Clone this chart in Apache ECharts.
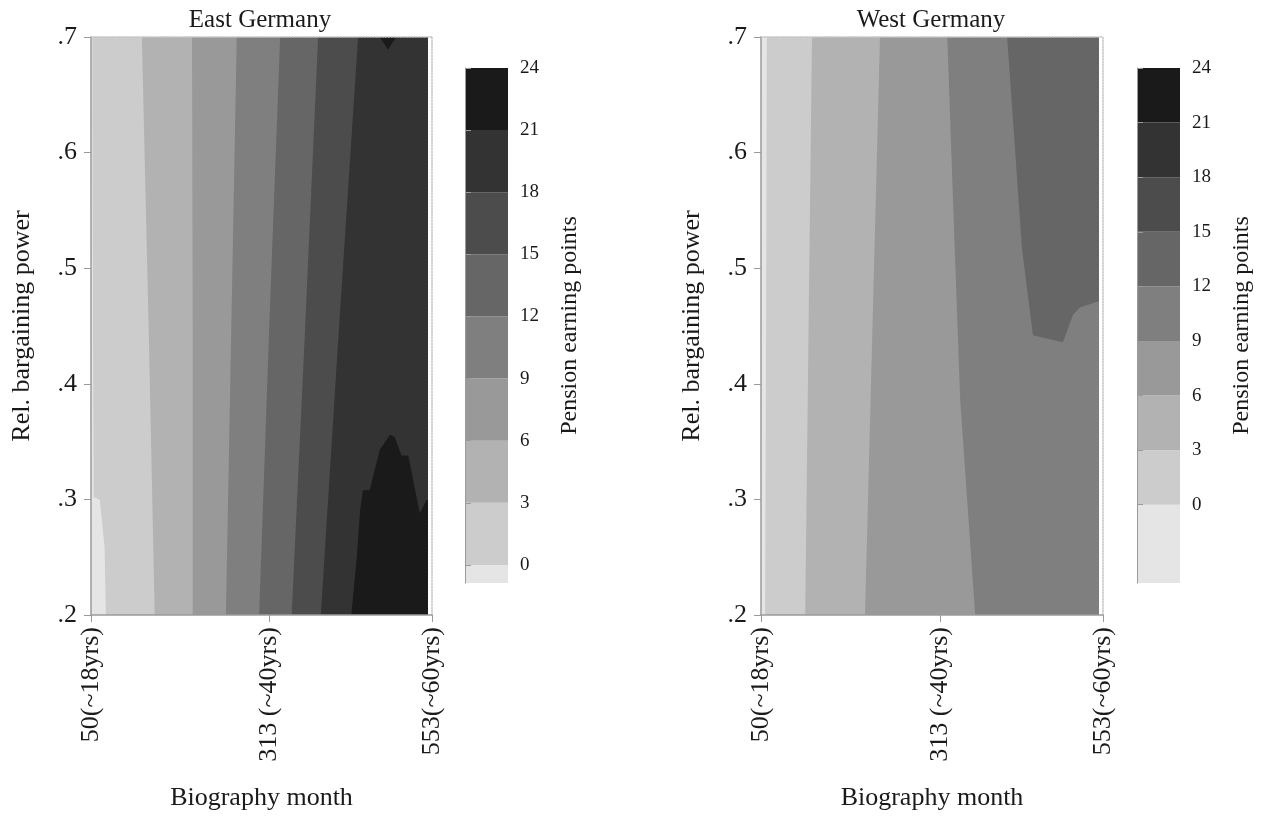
<!DOCTYPE html>
<html><head><meta charset="utf-8">
<script src="https://cdn.jsdelivr.net/npm/echarts@6/dist/echarts.min.js"></script>
<style>html,body{margin:0;padding:0;background:#fff}#c{width:1274px;height:821px}</style>
</head><body><div id="c"></div>
<script>
// ---------- data ----------
const panelTitles = ['East Germany', 'West Germany'];
const xTickValues = [50, 313, 553];
const xTickLabels = ['50(~18yrs)', '313 (~40yrs)', '553(~60yrs)'];
const levels = [0, 3, 6, 9, 12, 15, 18, 21, 24];
const bandColors = ['#e5e5e5', '#cccccc', '#b2b2b2', '#999999', '#7f7f7f', '#666666', '#4c4c4c', '#333333', '#1a1a1a'];
const eastZMin = -0.87;
const westZMin = -4.3;
const X_START = 50, X_END = 547, Y_MIN = 0.2, Y_MAX = 0.7;

// contour lines [biography month, rel. bargaining power]; region to the right is >= level
const eastC0 = [[52, 0.7], [53, 0.45], [54, 0.302], [63, 0.2995], [70, 0.259], [72, 0.2]];
const eastC3 = [[125, 0.7], [135, 0.45], [144, 0.2]];
const eastC6 = [[199, 0.7], [200, 0.45], [200, 0.2]];
const eastC9 = [[265, 0.7], [257, 0.45], [249, 0.2]];
const eastC12 = [[329, 0.7], [313, 0.45], [298, 0.2]];
const eastC15 = [[385, 0.7], [366, 0.45], [346, 0.2]];
const eastC18 = [[444, 0.7], [416, 0.45], [389, 0.2]];
const eastC21a = [[476, 0.7], [488, 0.689], [500, 0.7]];
const eastC21b = [[434, 0.2], [442, 0.25], [447, 0.291], [451, 0.308], [461, 0.308], [476, 0.343], [491, 0.356], [498, 0.354], [508, 0.338], [518, 0.338], [535, 0.288], [545, 0.2995]];

const westC0 = [[58.5, 0.7], [57.5, 0.45], [56, 0.2]];
const westC3 = [[125, 0.7], [120, 0.45], [115, 0.2]];
const westC6 = [[225, 0.7], [214, 0.45], [203, 0.2]];
const westC9 = [[324, 0.7], [335, 0.516], [343, 0.386], [365, 0.2]];
const westC12 = [[412, 0.7], [434, 0.516], [450, 0.442], [494, 0.436], [509, 0.46], [519, 0.466], [544, 0.471]];

// ---------- build ----------
const basePoly = [[X_START, Y_MAX], [X_START, Y_MIN], [X_END, Y_MIN], [X_END, Y_MAX]];
function closeRight(p) {
  return p.concat([[X_END, p[p.length - 1][1]], [X_END, p[0][1]]]);
}
const eastRegions = [
  { poly: basePoly, c: 0 },
  { poly: closeRight(eastC0), c: 1 },
  { poly: closeRight(eastC3), c: 2 },
  { poly: closeRight(eastC6), c: 3 },
  { poly: closeRight(eastC9), c: 4 },
  { poly: closeRight(eastC12), c: 5 },
  { poly: closeRight(eastC15), c: 6 },
  { poly: closeRight(eastC18), c: 7 },
  { poly: closeRight(eastC21a), c: 8 },
  { poly: closeRight(eastC21b), c: 8 }
];
const westRegions = [
  { poly: basePoly, c: 0 },
  { poly: closeRight(westC0), c: 1 },
  { poly: closeRight(westC3), c: 2 },
  { poly: closeRight(westC6), c: 3 },
  { poly: closeRight(westC9), c: 4 },
  { poly: closeRight(westC12), c: 5 }
];
function bands(zmin) {
  const out = [];
  for (let k = 0; k < bandColors.length; k++) {
    const lo = k === 0 ? zmin : levels[k - 1];
    const hi = levels[k];
    out.push([0, lo, hi, k]);
  }
  return out;
}

const FONT = '"Liberation Serif", "Times New Roman", serif';
const TXT = '#1a1a1a';
const AX = '#9a9a9a';

const grids = [
  { left: 91, top: 37, width: 341, height: 578 },
  { left: 465, top: 68, width: 43, height: 515 },
  { left: 761, top: 37, width: 342, height: 578 },
  { left: 1137, top: 68, width: 43, height: 515 }
];

function plotAxes(g) {
  const xa = [{
    type: 'value', gridIndex: g, min: 50, max: 553, z: 10,
    axisLine: { lineStyle: { color: AX, width: 1.5 } },
    axisTick: { customValues: xTickValues, length: 7, lineStyle: { color: AX } },
    axisLabel: { customValues: xTickValues, rotate: 90, margin: 12, fontSize: 26, fontFamily: FONT, color: TXT,
      formatter: v => xTickLabels[xTickValues.indexOf(v)] },
    splitLine: { show: false },
    name: 'Biography month', nameLocation: 'middle', nameGap: 170,
    nameTextStyle: { fontSize: 26, fontFamily: FONT, color: TXT }
  }, {
    type: 'value', gridIndex: g, min: 50, max: 553, position: 'top', z: 10,
    axisLine: { lineStyle: { color: '#c4c4c4', type: 'dotted', width: 1.5 } },
    axisTick: { show: false }, axisLabel: { show: false }, splitLine: { show: false }
  }];
  const ya = [{
    type: 'value', gridIndex: g, min: 0.2, max: 0.7, interval: 0.1, z: 10,
    axisLine: { show: true, lineStyle: { color: AX, width: 1.5 } },
    axisTick: { show: true, length: 7, lineStyle: { color: AX } },
    axisLabel: { margin: 14, fontSize: 26, fontFamily: FONT, color: TXT,
      formatter: v => v.toFixed(1).replace(/^0/, '') },
    splitLine: { show: false },
    name: 'Rel. bargaining power', nameLocation: 'middle', nameGap: 56, nameRotate: 90,
    nameTextStyle: { fontSize: 26, fontFamily: FONT, color: TXT }
  }, {
    type: 'value', gridIndex: g, min: 0.2, max: 0.7, position: 'right', z: 10,
    axisLine: { show: true, lineStyle: { color: '#c4c4c4', type: 'dotted', width: 1.5 } },
    axisTick: { show: false }, axisLabel: { show: false }, splitLine: { show: false }
  }];
  return { xa, ya };
}
function barAxes(g, zmin) {
  return {
    xa: [{ type: 'value', gridIndex: g, min: 0, max: 1, show: false }],
    ya: [{
      type: 'value', gridIndex: g, min: zmin, max: 24, position: 'right', z: 10,
      axisLine: { show: true, lineStyle: { color: AX, width: 1 } },
      axisTick: { show: true, customValues: levels, length: 6, lineStyle: { color: AX } },
      axisLabel: { customValues: levels, margin: 12, fontSize: 19, fontFamily: FONT, color: TXT },
      splitLine: { show: false },
      name: 'Pension earning points', nameLocation: 'middle', nameGap: 50, nameRotate: 90,
      nameTextStyle: { fontSize: 24, fontFamily: FONT, color: TXT }
    }]
  };
}
const a0 = plotAxes(0), a1 = barAxes(1, eastZMin), a2 = plotAxes(2), a3 = barAxes(3, westZMin);
const xAxis = [].concat(a0.xa, a1.xa, a2.xa, a3.xa);
const yAxis = [].concat(a0.ya, a1.ya, a2.ya, a3.ya);

function contourSeries(regions, xi, yi) {
  return {
    type: 'custom', xAxisIndex: xi, yAxisIndex: yi, z: 2, silent: true, clip: true,
    data: regions.map(r => r.poly[0]),
    renderItem: (params, api) => {
      const r = regions[params.dataIndex];
      return { type: 'polygon', shape: { points: r.poly.map(p => api.coord(p)) },
        style: { fill: bandColors[r.c], stroke: null } };
    }
  };
}
function colorbarSeries(zmin, xi, yi) {
  const d = bands(zmin);
  return {
    type: 'custom', xAxisIndex: xi, yAxisIndex: yi, z: 2, silent: true,
    data: d,
    renderItem: (params, api) => {
      const p0 = api.coord([0, api.value(2)]);
      const p1 = api.coord([1, api.value(1)]);
      return { type: 'rect', shape: { x: p0[0], y: p0[1], width: p1[0] - p0[0], height: p1[1] - p0[1] },
        style: { fill: bandColors[api.value(3)] } };
    }
  };
}

const titleStyle = { fontSize: 25, fontWeight: 'normal', fontFamily: FONT, color: TXT };
const option = {
  backgroundColor: '#fff',
  animation: false,
  title: [
    { text: panelTitles[0], left: 255, top: 3, textAlign: 'center', textStyle: titleStyle },
    { text: panelTitles[1], left: 926, top: 3, textAlign: 'center', textStyle: titleStyle }
  ],
  grid: grids,
  xAxis, yAxis,
  series: [
    contourSeries(eastRegions, 0, 0),
    colorbarSeries(eastZMin, 2, 2),
    contourSeries(westRegions, 3, 3),
    colorbarSeries(westZMin, 5, 5)
  ]
};
const chart = echarts.init(document.getElementById('c'), null, { renderer: 'canvas' });
chart.setOption(option);
</script></body></html>
